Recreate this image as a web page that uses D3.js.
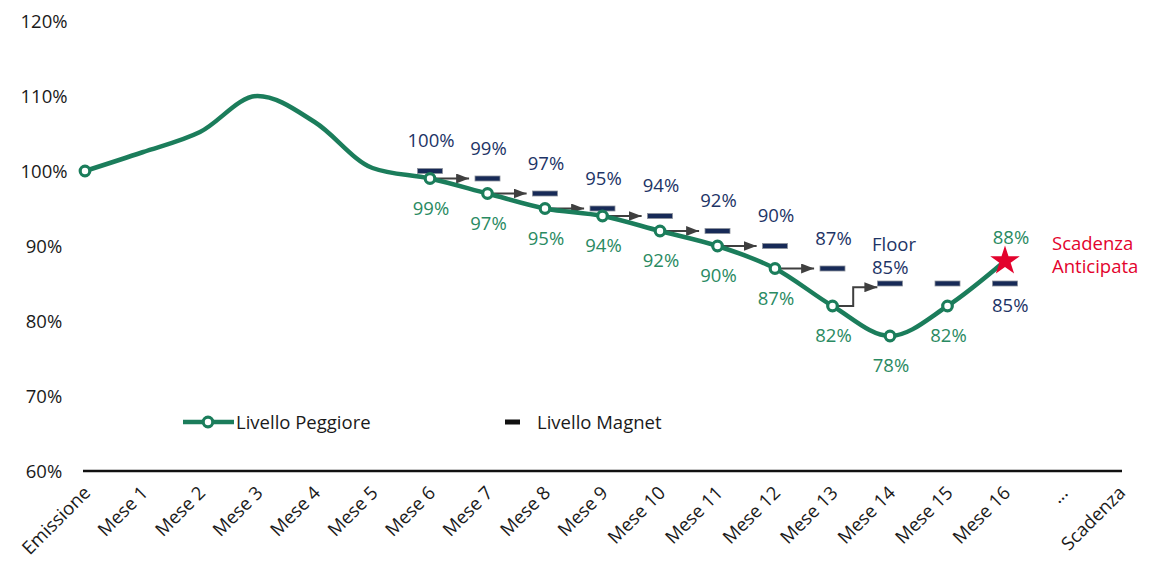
<!DOCTYPE html>
<html>
<head>
<meta charset="utf-8">
<script src="https://cdn.jsdelivr.net/npm/d3@7"></script>
<style>
  body { margin: 0; background: #fff; }
  svg text { font-family: "Open Sans", sans-serif; font-size: 18.5px; }
</style>
</head>
<body>
<svg id="chart" width="1170" height="570"></svg>
<script>
"use strict";

// categories on the x axis
var categories = ["Emissione", "Mese 1", "Mese 2", "Mese 3", "Mese 4", "Mese 5", "Mese 6",
  "Mese 7", "Mese 8", "Mese 9", "Mese 10", "Mese 11", "Mese 12", "Mese 13", "Mese 14",
  "Mese 15", "Mese 16", "...", "Scadenza"];

// Livello Peggiore (worst level), Emissione .. Mese 16
var peggiore = [100, 102.5, 105.2, 110, 106.5, 100.4, 99, 97, 95, 94, 92, 90, 87, 82, 78, 82, 88];
// which points get a round marker
var markerCats = ["Emissione", "Mese 6", "Mese 7", "Mese 8", "Mese 9", "Mese 10", "Mese 11",
  "Mese 12", "Mese 13", "Mese 14", "Mese 15"];
// which points get a value label below
var peggioreLabelCats = ["Mese 6", "Mese 7", "Mese 8", "Mese 9", "Mese 10", "Mese 11",
  "Mese 12", "Mese 13", "Mese 14", "Mese 15"];

// Livello Magnet
var magnetCats = ["Mese 6", "Mese 7", "Mese 8", "Mese 9", "Mese 10", "Mese 11", "Mese 12",
  "Mese 13", "Mese 14", "Mese 15", "Mese 16"];
var magnet = [100, 99, 97, 95, 94, 92, 90, 87, 85, 85, 85];

// arrows from the worst level towards the next magnet level
var arrowCats = ["Mese 6", "Mese 7", "Mese 8", "Mese 9", "Mese 10", "Mese 11", "Mese 12"];
var elbowCat = "Mese 13";
var elbowLevel = 84.5;

var yTicks = [60, 70, 80, 90, 100, 110, 120];

var GREEN = "#1b7d5b", GREEN_TXT = "#2a8a62", NAVY = "#1d3466", DASH = "#172a57",
    RED = "#e3032d", ARROW = "#3f3f3f";

var svg = d3.select("#chart");

var x = d3.scalePoint().domain(categories).range([85, 1120]);
var y = d3.scaleLinear().domain([60, 120]).range([471, 21]);
var step = x.step();

var valueOf = {};
categories.forEach(function(c, i) { if (i < peggiore.length) valueOf[c] = peggiore[i]; });
var magnetOf = {};
magnetCats.forEach(function(c, i) { magnetOf[c] = magnet[i]; });

function pct(v) { return Math.round(v) + "%"; }

// arrowhead
svg.append("defs").append("marker")
    .attr("id", "head")
    .attr("markerUnits", "userSpaceOnUse")
    .attr("viewBox", "0 0 13 10")
    .attr("refX", 13).attr("refY", 5)
    .attr("markerWidth", 13).attr("markerHeight", 10)
    .attr("orient", "auto")
  .append("path")
    .attr("d", "M0,0L13,5L0,10Z")
    .attr("fill", ARROW);

// y labels
svg.append("g").selectAll("text")
    .data(yTicks)
  .enter().append("text")
    .attr("x", 44)
    .attr("y", function(d) { return y(d) + 6.5; })
    .attr("text-anchor", "middle")
    .attr("fill", "#1a1a1a")
    .text(function(d) { return d + "%"; });

// x axis
var xAxis = d3.axisBottom(x).tickSize(0).tickPadding(0);
var gx = svg.append("g")
    .attr("transform", "translate(0," + y(60) + ")")
    .call(xAxis);
gx.select(".domain").remove();
gx.selectAll("text")
    .attr("x", 0).attr("y", 0).attr("dy", 0)
    .attr("transform", "translate(6,23) rotate(-45)")
    .attr("text-anchor", "end")
    .attr("fill", "#1a1a1a")
    .style("font-size", "18.5px")
    .style("font-family", "'Open Sans', sans-serif");

svg.append("line")
    .attr("x1", x("Emissione") - 2).attr("x2", x("Scadenza") + 2)
    .attr("y1", y(60)).attr("y2", y(60))
    .attr("stroke", "#111").attr("stroke-width", 2.5);

// arrows
var arrowLen = step * 0.68;
svg.append("g").selectAll("line")
    .data(arrowCats)
  .enter().append("line")
    .attr("x1", function(d) { return x(d); })
    .attr("x2", function(d) { return x(d) + arrowLen; })
    .attr("y1", function(d) { return y(valueOf[d]); })
    .attr("y2", function(d) { return y(valueOf[d]); })
    .attr("stroke", ARROW).attr("stroke-width", 2)
    .attr("marker-end", "url(#head)");

var ex = x(elbowCat), ey = y(valueOf[elbowCat]);
svg.append("path")
    .attr("d", "M" + ex + "," + ey + "H" + (ex + step * 0.36) + "V" + y(elbowLevel) +
      "H" + (ex + step * 0.78))
    .attr("fill", "none")
    .attr("stroke", ARROW).attr("stroke-width", 2)
    .attr("marker-end", "url(#head)");

// magnet dashes
svg.append("g").selectAll("rect")
    .data(magnetCats)
  .enter().append("rect")
    .attr("x", function(d) { return x(d) - 12.5; })
    .attr("y", function(d) { return y(magnetOf[d]) - 2.5; })
    .attr("width", 25).attr("height", 5)
    .attr("fill", DASH)
    .attr("stroke", "#8d929c").attr("stroke-width", 0.8);

// worst level line
var line = d3.line()
    .x(function(d, i) { return x(categories[i]); })
    .y(function(d) { return y(d); })
    .curve(d3.curveMonotoneX);

svg.append("path")
    .datum(peggiore)
    .attr("d", line)
    .attr("fill", "none")
    .attr("stroke", GREEN)
    .attr("stroke-width", 4.5)
    .attr("stroke-linejoin", "round");

svg.append("g").selectAll("circle")
    .data(markerCats)
  .enter().append("circle")
    .attr("cx", function(d) { return x(d); })
    .attr("cy", function(d) { return y(valueOf[d]); })
    .attr("r", 4.8)
    .attr("fill", "#fff")
    .attr("stroke", GREEN).attr("stroke-width", 3.2);

// star on Mese 16 (early redemption)
svg.append("path")
    .attr("d", d3.symbol().type(d3.symbolStar).size(270))
    .attr("transform", "translate(" + x("Mese 16") + "," + y(valueOf["Mese 16"]) + ")")
    .attr("fill", RED);

// labels for the worst level
svg.append("g").selectAll("text")
    .data(peggioreLabelCats)
  .enter().append("text")
    .attr("x", function(d) { return x(d) + 1; })
    .attr("y", function(d) { return y(valueOf[d]) + 36; })
    .attr("text-anchor", "middle")
    .attr("fill", GREEN_TXT)
    .text(function(d) { return pct(valueOf[d]); });

svg.append("text")
    .attr("x", x("Mese 16") + 6)
    .attr("y", y(valueOf["Mese 16"]) - 17)
    .attr("text-anchor", "middle")
    .attr("fill", GREEN_TXT)
    .text(pct(valueOf["Mese 16"]));

// labels for the magnet level
var aboveCats = magnetCats.slice(0, 8);
svg.append("g").selectAll("text")
    .data(aboveCats)
  .enter().append("text")
    .attr("x", function(d) { return x(d) + 1; })
    .attr("y", function(d) { return y(magnetOf[d]) - 24; })
    .attr("text-anchor", "middle")
    .attr("fill", NAVY)
    .text(function(d) { return pct(magnetOf[d]); });

svg.append("text")
    .attr("x", x("Mese 14") - 18)
    .attr("y", y(magnetOf["Mese 14"]) - 10)
    .attr("fill", NAVY)
    .text(pct(magnetOf["Mese 14"]));
svg.append("text")
    .attr("x", x("Mese 14") - 18)
    .attr("y", y(magnetOf["Mese 14"]) - 33)
    .attr("fill", NAVY)
    .text("Floor");

svg.append("text")
    .attr("x", x("Mese 16") - 13)
    .attr("y", y(magnetOf["Mese 16"]) + 28)
    .attr("fill", NAVY)
    .text(pct(magnetOf["Mese 16"]));

// Scadenza Anticipata
var note = svg.append("text")
    .attr("x", x("Mese 16") + 47)
    .attr("y", y(valueOf["Mese 16"]) - 11)
    .attr("fill", RED);
note.append("tspan").attr("x", x("Mese 16") + 47).text("Scadenza");
note.append("tspan").attr("x", x("Mese 16") + 47).attr("dy", 23).text("Anticipata");

// legend
var lg = svg.append("g").attr("transform", "translate(0,422)");
lg.append("line")
    .attr("x1", 183).attr("x2", 234).attr("y1", 0).attr("y2", 0)
    .attr("stroke", GREEN).attr("stroke-width", 4.5);
lg.append("circle")
    .attr("cx", 208).attr("cy", 0).attr("r", 4.8)
    .attr("fill", "#fff").attr("stroke", GREEN).attr("stroke-width", 3.2);
lg.append("text")
    .attr("x", 236).attr("y", 6.5)
    .attr("fill", "#1a1a1a")
    .text("Livello Peggiore");
lg.append("rect")
    .attr("x", 505).attr("y", -2.5).attr("width", 15).attr("height", 5)
    .attr("fill", "#111");
lg.append("text")
    .attr("x", 537).attr("y", 6.5)
    .attr("fill", "#1a1a1a")
    .text("Livello Magnet");
</script>
</body>
</html>
